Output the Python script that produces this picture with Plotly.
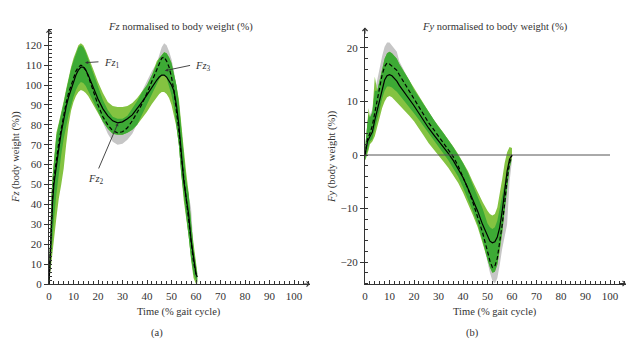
import numpy as np
import plotly.graph_objects as go

# ---------------- Panel (a): Fz ----------------
xa = [0, 0.5, 1, 1.5, 2, 3, 4, 5, 6, 7, 8, 9, 10, 11, 12, 13, 14, 15, 16, 18, 20, 22, 24, 26, 28, 30,
      32, 34, 36, 38, 40, 42, 44, 45, 46, 47, 48, 49, 50, 51, 52, 53, 54, 55, 56, 57, 58, 59, 60, 60.5]
fz_solid = [0, 16, 30, 42, 50, 60, 68, 76, 83, 89, 94, 98, 102, 105, 107.5, 109, 109, 107.5, 105, 99, 93, 88,
            84.5, 82, 81, 81.5, 83, 85, 88, 91.5, 95, 99, 102.5, 104, 105, 105, 104, 102, 100, 97, 90, 80, 64,
            52, 43, 35, 22, 12, 5, 3.5]
fz_dashed = [0, 18, 33, 45, 53, 63, 71, 78, 85, 91, 96, 100, 104, 107, 109, 110, 109.5, 107.5, 104.5, 97, 90,
             84, 80, 77, 76, 76.5, 78.5, 82, 86, 90.5, 96, 102, 108, 111, 113.5, 114, 112, 109, 104, 97, 88, 77,
             64, 53, 43, 34, 21, 11, 5, 3.5]
fz_solid_hi = [3, 30, 45, 55, 63, 76, 81, 86, 92, 98, 104, 109, 113.5, 117, 120, 121, 120, 117.5, 114.5, 108,
               101.5, 96, 91.5, 89.5, 89, 89, 89.5, 91, 93.5, 96.5, 100, 105, 112, 113.5, 115, 116.5, 116, 114,
               111, 106, 100, 93, 82, 68, 56, 46, 30, 20, 10, 6]
fz_solid_lo = [0, 4, 12, 17, 22, 33, 43, 50, 58, 70, 80, 87, 91.5, 94.5, 96.5, 97.5, 97, 96, 94.5, 90.5, 86,
               81.5, 78, 75.5, 75, 75, 76, 77.5, 80, 83, 86.5, 90.5, 94, 95.5, 96.5, 96.5, 95.5, 93.5, 90, 85,
               79, 70, 55, 42, 32, 24, 12, 3, 0, 0]
fz_dashed_hi = [3, 30, 44, 54, 62, 74, 80, 85, 91, 97, 103, 108, 112, 116, 119, 120, 119, 116.5, 113, 106, 99,
                92.5, 87.5, 84, 83, 83, 84.5, 88, 92, 97, 102, 107, 111, 115, 119, 121, 120, 117, 113, 107, 100,
                91, 78, 64, 52, 45, 38, 18, 9, 5]
fz_dashed_lo = [0, 6, 16, 24, 32, 45, 56, 65, 73, 79, 85, 90, 94, 97.5, 100, 101.5, 101, 99.5, 97, 92, 87, 81,
                75.5, 71.5, 70, 70.5, 72.5, 75.5, 80, 85, 90, 95.5, 100.5, 103, 104.5, 105, 103.5, 100, 95, 89,
                80, 70, 55, 43, 34, 24, 13, 5, 2, 1]

# ---------------- Panel (b): Fy ----------------
xb = [0, 0.5, 1, 1.5, 2, 3, 4, 5, 6, 7, 8, 9, 10, 11, 12, 13, 14, 16, 18, 20, 22, 24, 26, 28, 30, 32, 34, 36,
      38, 40, 42, 44, 46, 48, 50, 51, 52, 53, 54, 55, 56, 57, 58, 59, 60]
fy_solid = [0, 1.5, 2.5, 3, 3.5, 4.3, 6.5, 8.5, 10.5, 12.5, 14, 14.8, 15, 14.8, 14.3, 13.8, 13, 11.8, 10.5, 9.2,
            7.8, 6.3, 5, 3.8, 2.7, 1.5, 0.3, -1, -2.5, -4.2, -6.2, -8.3, -10.5, -13, -15.3, -16.1, -16.4, -16.2,
            -15.3, -13.5, -10.5, -6.5, -3, -0.8, 0]
fy_dashed = [0, 2, 3, 3.5, 4, 5.5, 8, 10.5, 13, 15, 16.5, 17.2, 17, 16.6, 16.2, 15.8, 15, 13.5, 12, 10.3, 9,
             7.5, 6, 4.8, 3.5, 2.2, 1, -0.3, -2, -4, -6.3, -8.8, -11.5, -14.5, -18, -19.8, -21, -20.8, -19.3,
             -16.5, -13, -9, -4.5, -1.5, 0]
fy_solid_hi = [1, 4, 6, 8.8, 7, 8, 14.6, 12, 14, 16, 18, 19, 19.3, 19, 18.5, 18, 17, 15.5, 14, 12.4, 11, 9.5, 8,
               6.6, 5.4, 4.2, 3, 1.6, 0.2, -1.3, -3, -5, -7, -8.8, -10.4, -11, -11.3, -11, -9.8, -7.5, -4.5,
               -1.5, 0.5, 1.5, 1.3]
fy_solid_lo = [-1, -0.5, 0, 1, 2, 2.5, 3.5, 5, 7, 8.8, 10, 10.8, 11, 10.8, 10.5, 10, 9.5, 8.4, 7.4, 6.3, 5, 3.6,
               2.2, 1, -0.1, -1.2, -2.4, -3.7, -5.2, -7, -9, -11.2, -13.5, -16.2, -19.5, -21, -22, -21.8, -20.5,
               -18, -14.5, -10.5, -6, -2.5, -0.5]
fy_dashed_hi = [1, 4.5, 6, 7.5, 7.5, 8.5, 12, 14, 16.5, 18.5, 20.2, 21, 21, 20.5, 20, 19.3, 17.5, 15.8, 14, 12.2,
                10.8, 9.4, 8, 6.6, 5.3, 4.1, 2.9, 1.5, 0, -1.5, -3.3, -5.5, -7.8, -10, -12.8, -13.5, -13.8, -13.5,
                -12.3, -10, -7.5, -5, -3, -1.5, -0.5]
fy_dashed_lo = [-1, 0, 0.5, 1.5, 2.5, 3, 4.5, 6.5, 8.5, 10.5, 12, 12.8, 12.8, 12.6, 12.2, 11.8, 11.3, 10.2, 9,
                7.8, 6.6, 5.3, 4, 2.8, 1.6, 0.3, -1, -2.4, -4, -6, -8.2, -10.5, -13, -16, -19.8, -22, -23.5, -24,
                -23, -20.5, -17.5, -15, -13, -5, -1]

x_ticks = [0, 10, 20, 30, 40, 50, 60, 70, 80, 90, 100]
ya_ticks = [0, 10, 20, 30, 40, 50, 60, 70, 80, 90, 100, 110, 120]
yb_ticks = [-20, -10, 0, 10, 20]

GRAY = "#c6c6c6"
LIGHT = "#84c341"
DARK = "#3daa35"
INK = "#333333"
FONT = "Liberation Serif"

fig = go.Figure()


def band(x, lo, hi, color, xr, yr):
    x = list(x)
    fig.add_trace(go.Scatter(x=x + x[::-1], y=list(hi) + list(lo)[::-1], fill="toself",
                             fillcolor=color, line=dict(width=0), mode="lines",
                             hoverinfo="skip", showlegend=False, xaxis=xr, yaxis=yr))


def panel(x, s, d, s_lo, s_hi, d_lo, d_hi, xr, yr):
    band(x, d_lo, d_hi, GRAY, xr, yr)
    band(x, s_lo, s_hi, LIGHT, xr, yr)
    o_lo = np.maximum(np.array(s_lo, float), np.array(d_lo, float))
    o_hi = np.minimum(np.array(s_hi, float), np.array(d_hi, float))
    o_hi = np.maximum(o_hi, o_lo)
    band(x, o_lo, o_hi, DARK, xr, yr)
    fig.add_trace(go.Scatter(x=x, y=d, mode="lines", line=dict(color="black", width=1.2, dash="4px,2.5px"),
                             showlegend=False, hoverinfo="skip", xaxis=xr, yaxis=yr))
    fig.add_trace(go.Scatter(x=x, y=s, mode="lines", line=dict(color="black", width=1.2),
                             showlegend=False, hoverinfo="skip", xaxis=xr, yaxis=yr))


panel(xa, fz_solid, fz_dashed, fz_solid_lo, fz_solid_hi, fz_dashed_lo, fz_dashed_hi, "x", "y")
panel(xb, fy_solid, fy_dashed, fy_solid_lo, fy_solid_hi, fy_dashed_lo, fy_dashed_hi, "x2", "y2")

W, H = 634, 342
OFF = 8  # page body margin offset
XR = [0, 106.5]
YA = [0, 128]
YB = [-24, 23.8]


def dom_x(a, b):
    return [(a - OFF) / W, (b - OFF) / W]


def dom_y(bottom_px, top_px):
    return [1 - (bottom_px - OFF) / H, 1 - (top_px - OFF) / H]


xa_dom = dom_x(49, 49 + 106.5 * 2.45)
xb_dom = dom_x(365, 365 + 106.5 * 2.45)
ya_dom = dom_y(284, 284 - 128 * 1.99)
yb_dom = dom_y(283.5, 155.5 - 23.8 * 5.375)

tickfont = dict(family=FONT, size=11, color=INK)
xcommon = dict(range=XR, tickvals=x_ticks, showline=True, linecolor=INK, linewidth=1, ticks="inside",
               ticklen=4, tickcolor=INK, tickfont=tickfont, showgrid=False, zeroline=False, automargin=False,
               ticklabelstandoff=2, minor=dict(dtick=2, tick0=0, ticks="inside", ticklen=3, tickcolor=INK))
ycommon = dict(showline=True, linecolor=INK, linewidth=1, ticks="outside", ticklen=4, tickcolor=INK,
               tickfont=tickfont, showgrid=False, zeroline=False, automargin=False,
               minor=dict(dtick=2, tick0=0, ticks="inside", ticklen=3, tickcolor=INK))

fig.update_layout(
    width=W, height=H, margin=dict(l=0, r=0, t=0, b=0),
    paper_bgcolor="white", plot_bgcolor="white", showlegend=False,
    xaxis=dict(domain=xa_dom, anchor="y", **xcommon),
    yaxis=dict(domain=ya_dom, anchor="x", range=YA, tickvals=ya_ticks, **ycommon),
    xaxis2=dict(domain=xb_dom, anchor="y2", **xcommon),
    yaxis2=dict(domain=yb_dom, anchor="x2", range=YB, tickvals=yb_ticks, **ycommon),
)

# zero line on panel b
fig.add_shape(type="line", xref="x2", yref="y2", x0=0, x1=100, y0=0, y1=0,
              line=dict(color="#555555", width=1), layer="above")

# axis arrows
for xr, yr, xmax, ymin, ymax in [("x", "y", XR[1], YA[0], YA[1]), ("x2", "y2", XR[1], YB[0], YB[1])]:
    fig.add_annotation(x=xmax, y=ymin, ax=xmax - 3, ay=ymin, xref=xr, yref=yr, axref=xr, ayref=yr,
                       text="", showarrow=True, arrowhead=4, arrowsize=1, arrowwidth=1, arrowcolor=INK)
    fig.add_annotation(x=0, y=ymax, ax=0, ay=ymax - (ymax - ymin) * 0.03, xref=xr, yref=yr, axref=xr,
                       ayref=yr, text="", showarrow=True, arrowhead=4, arrowsize=1, arrowwidth=1,
                       arrowcolor=INK)

txt = dict(family=FONT, size=10.5, color=INK)
big = dict(family=FONT, size=10.5, color=INK)


def ptext(x_px, y_px, text, font=txt, angle=0):
    fig.add_annotation(x=(x_px - OFF) / W, y=1 - (y_px - OFF) / H, xref="paper", yref="paper", text=text,
                       showarrow=False, font=font, textangle=angle, xanchor="center", yanchor="middle")


ptext(180, 27, "<i>Fz</i> normalised to body weight (%)", big)
ptext(495, 27, "<i>Fy</i> normalised to body weight (%)", big)
ptext(179, 312, "Time (% gait cycle)", big)
ptext(495, 312, "Time (% gait cycle)", big)
ptext(157, 333, "(a)", big)
ptext(472, 333, "(b)", big)
ptext(16, 157, "<i>Fz</i> (body weight (%))", big, -90)
ptext(332, 157, "<i>Fy</i> (body weight (%))", big, -90)

# Fz labels with arrows
labels = [
    ("<i>Fz</i><sub>1</sub>", 25.8, 110.6, 20.8, 111.7, 14.7, 111.2),
    ("<i>Fz</i><sub>3</sub>", 62.8, 109.2, 58.2, 110.0, 47.3, 107.2),
    ("<i>Fz</i><sub>2</sub>", 19.2, 52.5, 20.0, 57.3, 28.2, 80.9),
]
for t, tx, ty, ax_, ay_, hx, hy in labels:
    fig.add_annotation(x=tx, y=ty, xref="x", yref="y", text=t, showarrow=False, font=txt)
    fig.add_annotation(x=hx, y=hy, ax=ax_, ay=ay_, xref="x", yref="y", axref="x", ayref="y", text="",
                       showarrow=True, arrowhead=2, arrowsize=0.7, arrowwidth=0.9, arrowcolor=INK)

fig.write_html("out.html")
